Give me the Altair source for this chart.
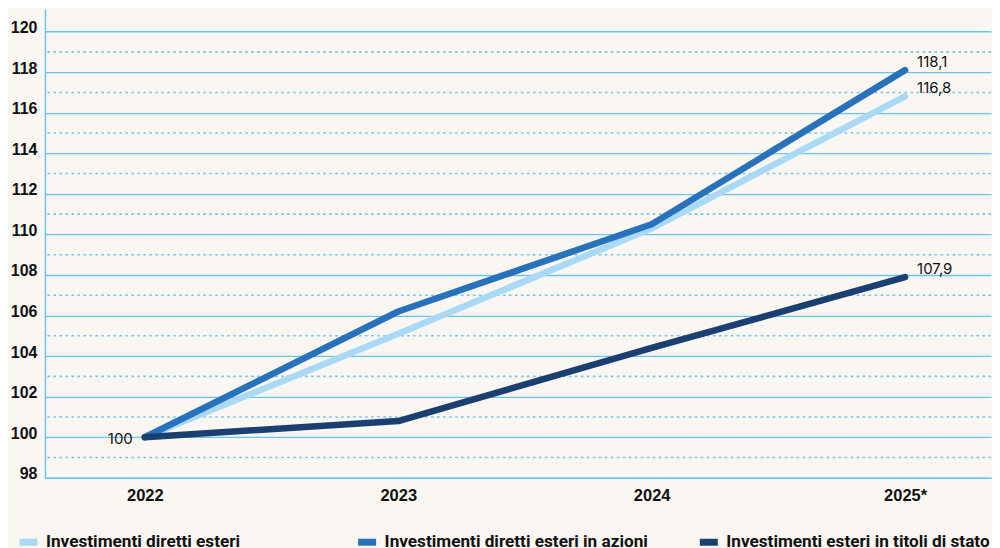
import altair as alt
import pandas as pd

years = [2022, 2023, 2024, 2025]
series_names = [
    "Investimenti diretti esteri",
    "Investimenti diretti esteri in azioni",
    "Investimenti esteri in titoli di stato",
]
ide = [100, 105.1, 110.3, 116.8]
ide_azioni = [100, 106.2, 110.5, 118.1]
titoli_stato = [100, 100.8, 104.4, 107.9]
colors = ["#a9d9f5", "#2872bb", "#1b3f70"]
legend_x = [-29, 310, 652]
even_ticks = list(range(98, 121, 2))
odd_ticks = list(range(99, 121, 2))

rows = []
for name, vals in zip(series_names, [ide, ide_azioni, titoli_stato]):
    for y, v in zip(years, vals):
        rows.append({"anno": y, "valore": v, "serie": name})
df = pd.DataFrame(rows)

end_df = df[df["anno"] == 2025].copy()
end_df["testo"] = end_df["valore"].map(lambda v: f"{v:.1f}".replace(".", ","))
start_df = pd.DataFrame({"anno": [2022], "valore": [100], "testo": ["100"]})
odd_df = pd.DataFrame({"valore": odd_ticks})

grid_color = "#6cc4ed"

x_scale = alt.Scale(domain=[2021.606, 2025.339], nice=False, zero=False)
y_scale = alt.Scale(domain=[98, 121.1], nice=False, zero=False)

x_axis = alt.Axis(
    values=years,
    format="d",
    labelExpr="datum.value == 2025 ? datum.label + '*' : datum.label",
    title=None,
    grid=False,
    ticks=False,
    domainColor=grid_color,
    domainWidth=1.5,
    labelFont="Liberation Sans",
    labelFontWeight="bold",
    labelFontSize=16.5,
    labelColor="#111111",
    labelPadding=10,
)
y_axis = alt.Axis(
    values=even_ticks,
    title=None,
    grid=True,
    gridColor=grid_color,
    gridWidth=1.3,
    ticks=False,
    domainColor=grid_color,
    domainWidth=1.5,
    labelFont="Liberation Sans",
    labelFontWeight="bold",
    labelFontSize=16,
    labelColor="#111111",
    labelPadding=8,
    labelBaseline="alphabetic",
    labelOffset=1,
    minExtent=37,
    maxExtent=37,
)


def xe():
    return alt.X("anno:Q", scale=x_scale, axis=x_axis)


def ye():
    return alt.Y("valore:Q", scale=y_scale, axis=y_axis)


odd_rules = alt.Chart(odd_df).mark_rule(
    color=grid_color, strokeWidth=1.6, strokeDash=[2.5, 3.5]
).encode(y=ye())

line_layers = []
for i, name in enumerate(series_names):
    sub = df[df["serie"] == name]
    layer = alt.Chart(sub).mark_line(strokeWidth=6.5, strokeCap="round", strokeJoin="round").encode(
        x=xe(),
        y=ye(),
        color=alt.Color(
            "serie:N",
            scale=alt.Scale(domain=[name], range=[colors[i]]),
            legend=alt.Legend(
                title=None,
                orient="none",
                legendX=legend_x[i],
                legendY=521,
                symbolType="stroke",
                symbolSize=324,
                symbolStrokeWidth=7,
                labelFont="Roboto",
                labelFontWeight="bold",
                labelFontSize=17.2,
                labelColor="#111111",
                labelOffset=5,
                labelLimit=400,
            ),
        ),
    )
    line_layers.append(layer)

end_labels = alt.Chart(end_df).mark_text(
    align="left", baseline="middle", dx=12, dy=-8, font="Inter", fontSize=15, color="#111111"
).encode(x=xe(), y=ye(), text="testo:N")

start_label = alt.Chart(start_df).mark_text(
    align="right", baseline="middle", dx=-12, dy=2, font="Inter", fontSize=15, color="#111111"
).encode(x=xe(), y=ye(), text="testo:N")

chart = (
    alt.layer(odd_rules, *line_layers, end_labels, start_label)
    .resolve_scale(color="independent")
    .properties(width=947, height=469, background="#faf7f2", padding={"left": 0, "top": 1, "right": 0, "bottom": 0})
    .configure_view(stroke=None)
)

chart.save("out.html", embed_options={"renderer": "svg", "actions": False})
